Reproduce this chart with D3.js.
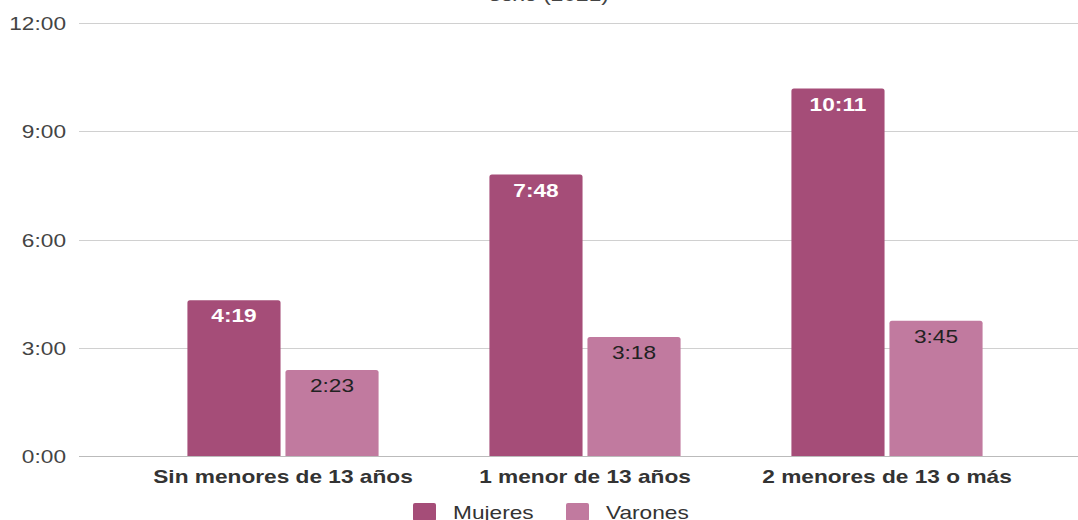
<!DOCTYPE html>
<html>
<head>
<meta charset="utf-8">
<script src="https://cdn.jsdelivr.net/npm/d3@7"></script>
<style>
  html, body { margin: 0; padding: 0; background: #fff; }
  svg { display: block; }
</style>
</head>
<body>
<svg id="chart" width="1078" height="520"></svg>
<script>
// data (minutes per day)
var categories = ["Sin menores de 13 años", "1 menor de 13 años", "2 menores de 13 o más"];
var series = ["Mujeres", "Varones"];
var mujeres = [259, 468, 611];   // 4:19, 7:48, 10:11
var varones = [143, 198, 225];   // 2:23, 3:18, 3:45
var yTicks = [0, 180, 360, 540, 720];
var colors = ["#a54d78", "#c17a9f"];

var svg = d3.select("#chart"),
    width = +svg.attr("width"),
    height = +svg.attr("height");

var sx = 1.26; // the reference text is stretched horizontally

function fmt(m) {
    var h = Math.floor(m / 60), mm = m % 60;
    return h + ":" + (mm < 10 ? "0" : "") + mm;
}

// place a stretched text element
function stretchText(sel, x, y) {
    return sel.attr("transform", "translate(" + x + "," + y + ") scale(" + sx + ",1)");
}

var y = d3.scaleLinear().domain([0, 720]).range([456, 23]);

var x0 = d3.scaleBand()
    .domain(categories)
    .range([132, 1038])
    .paddingInner(0.367)
    .paddingOuter(0.1835);

var x1 = d3.scaleBand()
    .domain(series)
    .range([0, x0.bandwidth()])
    .paddingInner(0.05);

// title (cut off at top)
stretchText(svg.append("text"), 549, 1)
    .attr("text-anchor", "middle")
    .attr("font-family", "Liberation Sans, Arial, sans-serif")
    .attr("font-size", 18)
    .attr("fill", "#444")
    .text("sexo (2021)");

// gridlines
svg.append("g").selectAll("line")
    .data(yTicks)
    .enter().append("line")
    .attr("x1", 79)
    .attr("x2", width)
    .attr("y1", function (d) { return Math.round(y(d)) + 0.5; })
    .attr("y2", function (d) { return Math.round(y(d)) + 0.5; })
    .attr("stroke", function (d) { return d === 0 ? "#bbb" : "#d0d0d0"; })
    .attr("stroke-width", 1);

// y tick labels
svg.append("g").selectAll("text")
    .data(yTicks)
    .enter().append("text")
    .each(function (d) { stretchText(d3.select(this), 66, y(d) + 7); })
    .attr("text-anchor", "end")
    .attr("font-family", "Liberation Sans, Arial, sans-serif")
    .attr("font-size", 18)
    .attr("fill", "#444")
    .text(function (d) { return (d / 60) + ":00"; });

var rows = categories.map(function (c, i) {
    return { cat: c, vals: [mujeres[i], varones[i]] };
});

function topRounded(x, yTop, w, yBase, r) {
    return "M" + x + "," + yBase +
        "V" + (yTop + r) +
        "Q" + x + "," + yTop + " " + (x + r) + "," + yTop +
        "H" + (x + w - r) +
        "Q" + (x + w) + "," + yTop + " " + (x + w) + "," + (yTop + r) +
        "V" + yBase + "Z";
}

var groups = svg.append("g").selectAll("g")
    .data(rows)
    .enter().append("g")
    .attr("transform", function (d) { return "translate(" + x0(d.cat) + ",0)"; });

groups.selectAll("path")
    .data(function (d) { return d.vals.map(function (v, j) { return { s: series[j], v: v, j: j }; }); })
    .enter().append("path")
    .attr("d", function (d) { return topRounded(x1(d.s), y(d.v), x1.bandwidth(), y(0), 2.5); })
    .attr("fill", function (d) { return colors[d.j]; });

groups.selectAll("text.val")
    .data(function (d) { return d.vals.map(function (v, j) { return { s: series[j], v: v, j: j }; }); })
    .enter().append("text")
    .attr("class", "val")
    .each(function (d) { stretchText(d3.select(this), x1(d.s) + x1.bandwidth() / 2, y(d.v) + 22); })
    .attr("text-anchor", "middle")
    .attr("font-family", "Liberation Sans, Arial, sans-serif")
    .attr("font-size", 18)
    .attr("font-weight", function (d) { return d.j === 0 ? "bold" : "normal"; })
    .attr("fill", function (d) { return d.j === 0 ? "#fff" : "#222"; })
    .text(function (d) { return fmt(d.v); });

// category labels
svg.append("g").selectAll("text")
    .data(categories)
    .enter().append("text")
    .each(function (d) { stretchText(d3.select(this), x0(d) + x0.bandwidth() / 2, 483); })
    .attr("text-anchor", "middle")
    .attr("font-family", "Liberation Sans, Arial, sans-serif")
    .attr("font-size", 18)
    .attr("font-weight", "bold")
    .attr("fill", "#333")
    .text(function (d) { return d; });

// legend
var legendX = [413, 566];
var legend = svg.append("g").selectAll("g")
    .data(series)
    .enter().append("g");

legend.append("rect")
    .attr("x", function (d, i) { return legendX[i]; })
    .attr("y", 503)
    .attr("width", 23)
    .attr("height", 18)
    .attr("rx", 2)
    .attr("fill", function (d, i) { return colors[i]; });

legend.append("text")
    .each(function (d, i) { stretchText(d3.select(this), legendX[i] + 40, 519); })
    .attr("font-family", "Liberation Sans, Arial, sans-serif")
    .attr("font-size", 18)
    .attr("fill", "#333")
    .text(function (d) { return d; });
</script>
</body>
</html>
